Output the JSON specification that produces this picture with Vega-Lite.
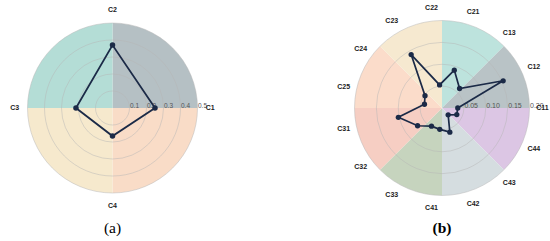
{
  "$schema": "https://vega.github.io/schema/vega-lite/v6.json",
  "padding": 0,
  "background": "white",
  "bounds": "flush",
  "spacing": 109,
  "config": {"view": {"stroke": null}, "font": "Liberation Sans"},
  "resolve": {"scale": {"x": "independent", "y": "independent", "color": "independent", "radius": "independent", "theta": "independent"}},
  "datasets": {
    "secA": [
      {"sector": "C1-C2", "w": 1, "k": 1},
      {"sector": "C4-C1", "w": 1, "k": 2},
      {"sector": "C3-C4", "w": 1, "k": 3},
      {"sector": "C2-C3", "w": 1, "k": 4}
    ],
    "gridA": [
      {"r": 0.1, "t": "0.1"},
      {"r": 0.2, "t": "0.2"},
      {"r": 0.3, "t": "0.3"},
      {"r": 0.4, "t": "0.4"},
      {"r": 0.5, "t": "0.5"}
    ],
    "a": [
      {"cat": "C1", "i": 0, "v": 0.25},
      {"cat": "C2", "i": 1, "v": 0.37},
      {"cat": "C3", "i": 2, "v": 0.215},
      {"cat": "C4", "i": 3, "v": 0.165}
    ],
    "secB": [
      {"sector": "S1", "w": 1, "k": 1},
      {"sector": "S2", "w": 1, "k": 2},
      {"sector": "S3", "w": 1, "k": 3},
      {"sector": "S4", "w": 1, "k": 4},
      {"sector": "S5", "w": 1, "k": 5},
      {"sector": "S6", "w": 1, "k": 6},
      {"sector": "S7", "w": 1, "k": 7},
      {"sector": "S8", "w": 1, "k": 8}
    ],
    "gridB": [
      {"r": 0.05, "t": "0.05"},
      {"r": 0.1, "t": "0.10"},
      {"r": 0.15, "t": "0.15"},
      {"r": 0.2, "t": "0.20"}
    ],
    "b": [
      {"cat": "C11", "i": 0, "v": 0.036},
      {"cat": "C12", "i": 1, "v": 0.153},
      {"cat": "C13", "i": 2, "v": 0.06},
      {"cat": "C21", "i": 3, "v": 0.091},
      {"cat": "C22", "i": 4, "v": 0.053},
      {"cat": "C23", "i": 5, "v": 0.141},
      {"cat": "C24", "i": 6, "v": 0.048},
      {"cat": "C25", "i": 7, "v": 0.041},
      {"cat": "C31", "i": 8, "v": 0.102},
      {"cat": "C32", "i": 9, "v": 0.069},
      {"cat": "C33", "i": 10, "v": 0.048},
      {"cat": "C41", "i": 11, "v": 0.049},
      {"cat": "C42", "i": 12, "v": 0.058},
      {"cat": "C43", "i": 13, "v": 0.021},
      {"cat": "C44", "i": 14, "v": 0.037}
    ]
  },
  "hconcat": [
    {
      "width": 225,
      "height": 216,
      "title": {"text": "(a)", "orient": "bottom", "font": "Liberation Serif", "fontSize": 15.5, "fontWeight": "normal", "offset": 5, "color": "#000000"},
      "layer": [
        {
          "data": {"name": "secA"},
          "mark": {"type": "arc", "radius": 85},
          "encoding": {
            "theta": {"field": "w", "type": "quantitative", "stack": true},
            "order": {"field": "k", "type": "quantitative"},
            "color": {"field": "sector", "type": "nominal", "legend": null,
              "scale": {"domain": ["C1-C2", "C4-C1", "C3-C4", "C2-C3"], "range": ["#b5c0c4", "#f9dcc7", "#f6e9cd", "#b4ddd6"]}}
          }
        },
        {
          "data": {"name": "gridA"},
          "mark": {"type": "arc", "theta": 0, "theta2": 6.2832, "filled": false, "stroke": "#b5b5b5", "strokeOpacity": 0.6, "strokeWidth": 0.8},
          "encoding": {
            "radius": {"field": "r", "type": "quantitative", "stack": null, "scale": {"type": "linear", "domain": [0, 0.5], "range": [0, 85], "zero": true}}
          }
        },
        {
          "data": {"name": "gridA"},
          "mark": {"type": "text", "align": "left", "baseline": "bottom", "fontSize": 6.5, "color": "#555555", "dx": 0.5, "dy": 1},
          "encoding": {
            "x": {"field": "r", "type": "quantitative", "scale": {"domain": [-0.66176, 0.66176], "nice": false, "zero": false}, "axis": null},
            "y": {"datum": 0, "type": "quantitative", "scale": {"domain": [-0.63529, 0.63529], "nice": false, "zero": false}, "axis": null},
            "text": {"field": "t"}
          }
        },
        {
          "data": {"name": "a"},
          "transform": [
            {"calculate": "datum.i * PI / 2", "as": "ang"},
            {"calculate": "datum.v * cos(datum.ang)", "as": "px"},
            {"calculate": "datum.v * sin(datum.ang)", "as": "py"}
          ],
          "mark": {"type": "line", "interpolate": "linear-closed", "color": "#1b2a47", "strokeWidth": 1.8},
          "encoding": {
            "x": {"field": "px", "type": "quantitative"},
            "y": {"field": "py", "type": "quantitative"},
            "order": {"field": "i", "type": "quantitative"}
          }
        },
        {
          "data": {"name": "a"},
          "transform": [
            {"calculate": "datum.i * PI / 2", "as": "ang"},
            {"calculate": "datum.v * cos(datum.ang)", "as": "px"},
            {"calculate": "datum.v * sin(datum.ang)", "as": "py"}
          ],
          "mark": {"type": "point", "filled": true, "opacity": 1, "color": "#1b2a47", "size": 30},
          "encoding": {
            "x": {"field": "px", "type": "quantitative"},
            "y": {"field": "py", "type": "quantitative"}
          }
        },
        {
          "data": {"name": "a"},
          "transform": [
            {"calculate": "datum.i * PI / 2", "as": "ang"},
            {"calculate": "0.575 * cos(datum.ang)", "as": "lx"},
            {"calculate": "0.575 * sin(datum.ang)", "as": "ly"}
          ],
          "mark": {"type": "text", "align": "center", "baseline": "middle", "fontSize": 7, "fontWeight": "bold", "color": "#222222"},
          "encoding": {
            "x": {"field": "lx", "type": "quantitative"},
            "y": {"field": "ly", "type": "quantitative"},
            "text": {"field": "cat"}
          }
        }
      ]
    },
    {
      "width": 216,
      "height": 216,
      "title": {"text": "(b)", "orient": "bottom", "font": "Liberation Serif", "fontSize": 15.5, "fontWeight": "bold", "offset": 5, "color": "#000000"},
      "layer": [
        {
          "data": {"name": "secB"},
          "mark": {"type": "arc", "radius": 87.5},
          "encoding": {
            "theta": {"field": "w", "type": "quantitative", "stack": true},
            "order": {"field": "k", "type": "quantitative"},
            "color": {"field": "sector", "type": "nominal", "legend": null,
              "scale": {"domain": ["S1", "S2", "S3", "S4", "S5", "S6", "S7", "S8"], "range": ["#bde3dd", "#b9c3c6", "#dcc6e4", "#d5dde0", "#c6d4be", "#f6cec3", "#fbdcca", "#f6e9d0"]}}
          }
        },
        {
          "data": {"name": "gridB"},
          "mark": {"type": "arc", "theta": 0, "theta2": 6.2832, "filled": false, "stroke": "#b5b5b5", "strokeOpacity": 0.6, "strokeWidth": 0.8},
          "encoding": {
            "radius": {"field": "r", "type": "quantitative", "stack": null, "scale": {"type": "linear", "domain": [0, 0.2], "range": [0, 87.5], "zero": true}}
          }
        },
        {
          "data": {"name": "gridB"},
          "mark": {"type": "text", "align": "left", "baseline": "bottom", "fontSize": 7, "color": "#555555", "dx": 0.5, "dy": 1},
          "encoding": {
            "x": {"field": "r", "type": "quantitative", "scale": {"domain": [-0.246857, 0.246857], "nice": false, "zero": false}, "axis": null},
            "y": {"datum": 0, "type": "quantitative", "scale": {"domain": [-0.246857, 0.246857], "nice": false, "zero": false}, "axis": null},
            "text": {"field": "t"}
          }
        },
        {
          "data": {"name": "b"},
          "transform": [
            {"calculate": "datum.i * 2 * PI / 15", "as": "ang"},
            {"calculate": "datum.v * cos(datum.ang)", "as": "px"},
            {"calculate": "datum.v * sin(datum.ang)", "as": "py"}
          ],
          "mark": {"type": "line", "interpolate": "linear-closed", "color": "#1b2a47", "strokeWidth": 1.7},
          "encoding": {
            "x": {"field": "px", "type": "quantitative"},
            "y": {"field": "py", "type": "quantitative"},
            "order": {"field": "i", "type": "quantitative"}
          }
        },
        {
          "data": {"name": "b"},
          "transform": [
            {"calculate": "datum.i * 2 * PI / 15", "as": "ang"},
            {"calculate": "datum.v * cos(datum.ang)", "as": "px"},
            {"calculate": "datum.v * sin(datum.ang)", "as": "py"}
          ],
          "mark": {"type": "point", "filled": true, "opacity": 1, "color": "#1b2a47", "size": 28},
          "encoding": {
            "x": {"field": "px", "type": "quantitative"},
            "y": {"field": "py", "type": "quantitative"}
          }
        },
        {
          "data": {"name": "b"},
          "transform": [
            {"calculate": "datum.i * 2 * PI / 15", "as": "ang"},
            {"calculate": "0.2297 * cos(datum.ang)", "as": "lx"},
            {"calculate": "0.2297 * sin(datum.ang)", "as": "ly"}
          ],
          "mark": {"type": "text", "align": "center", "baseline": "middle", "fontSize": 7, "fontWeight": "bold", "color": "#222222"},
          "encoding": {
            "x": {"field": "lx", "type": "quantitative"},
            "y": {"field": "ly", "type": "quantitative"},
            "text": {"field": "cat"}
          }
        }
      ]
    }
  ]
}
